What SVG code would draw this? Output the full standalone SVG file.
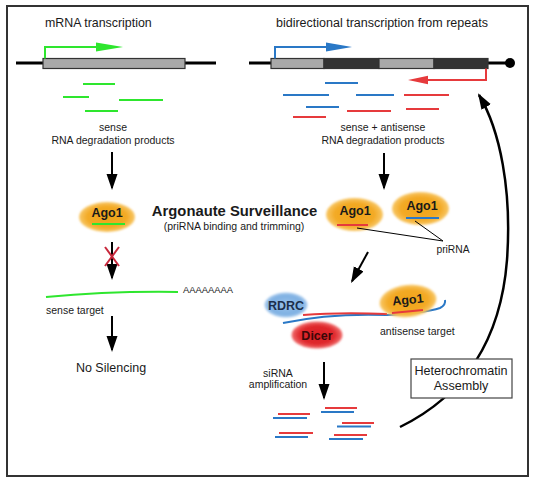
<svg xmlns="http://www.w3.org/2000/svg" width="535" height="484" viewBox="0 0 535 484">
<style>
text{font-family:"Liberation Sans",Arial,sans-serif;fill:#1a1a1a}
.t12{font-size:12.4px}
.t105{font-size:10.5px}
.bold{font-weight:bold}
.ctr{text-anchor:middle}
.blk{stroke:#000;stroke-width:2;fill:none}
.g{stroke:#2ee62e;stroke-width:2;fill:none}
.b{stroke:#2a78c6;stroke-width:2;fill:none}
.r{stroke:#e63a3c;stroke-width:2;fill:none}
.gene{stroke:#000;stroke-width:3}
.seg{stroke:#333;stroke-width:1.2}
.ago{fill:url(#agoG);filter:url(#soft)}
</style>
<defs>
<radialGradient id="agoG"><stop offset="0" stop-color="#f1a318"/><stop offset="0.7" stop-color="#f3aa26"/><stop offset="1" stop-color="#f8c868"/></radialGradient>
<radialGradient id="rdrcG"><stop offset="0" stop-color="#9cc3ec"/><stop offset="0.75" stop-color="#7eb0e2"/><stop offset="1" stop-color="#a9cbee"/></radialGradient>
<radialGradient id="dicerG"><stop offset="0" stop-color="#d81c22"/><stop offset="0.7" stop-color="#e02a2e"/><stop offset="1" stop-color="#f07070"/></radialGradient>
<filter id="soft" x="-30%" y="-30%" width="160%" height="160%"><feGaussianBlur stdDeviation="1.3"/></filter>
<marker id="ah" markerUnits="userSpaceOnUse" markerWidth="16" markerHeight="12" viewBox="0 0 16 12" refX="14" refY="6" orient="auto"><path d="M0,0.5 L16,6 L0,11.5 z" fill="#000"/></marker>
</defs>
<rect x="0" y="0" width="535" height="484" fill="#fff"/>
<rect x="7" y="6" width="521" height="470" fill="#fff" stroke="#333" stroke-width="2"/>

<g id="left-gene">
<text class="t12" x="45" y="27">mRNA transcription</text>
<line class="gene" x1="16" y1="63" x2="216" y2="63"/>
<rect class="seg" x="43" y="58.5" width="142" height="10" fill="#a9a9a9"/>
<path class="g" d="M45,58.5 L45,47 L98,47"/>
<polygon points="96,42.5 123,47 96,51.5" fill="#2ee62e"/>
</g>

<g id="left-products">
<line class="g" x1="83" y1="84" x2="115" y2="84"/>
<line class="g" x1="63" y1="97" x2="89" y2="97"/>
<line class="g" x1="119" y1="100" x2="163" y2="100"/>
<line class="g" x1="85" y1="111" x2="118" y2="111"/>
<text class="t105 ctr" x="113" y="131">sense</text>
<text class="t105 ctr" x="113" y="144">RNA degradation products</text>
</g>

<g id="right-gene">
<text class="t12" x="276" y="27" style="font-size:12.5px">bidirectional transcription from repeats</text>
<line class="gene" x1="249" y1="63" x2="508" y2="63"/>
<circle cx="510" cy="63" r="5" fill="#000"/>
<rect class="seg" x="271" y="58.5" width="53" height="10" fill="#a9a9a9"/>
<rect class="seg" x="324" y="58.5" width="55" height="10" fill="#333"/>
<rect class="seg" x="379" y="58.5" width="55" height="10" fill="#a9a9a9"/>
<rect class="seg" x="434" y="58.5" width="54" height="10" fill="#333"/>
<path class="b" d="M275,58.5 L275,47 L328,47"/>
<polygon points="326,42.5 352,47 326,51.5" fill="#2a78c6"/>
<path class="r" d="M486,68.5 L486,80 L426,80"/>
<polygon points="428,75.8 408,80 428,84.2" fill="#e63a3c"/>
</g>

<g id="right-products">
<line class="b" x1="325" y1="83" x2="358" y2="83"/>
<line class="b" x1="283" y1="95" x2="329" y2="95"/>
<line class="b" x1="356" y1="95" x2="394" y2="95"/>
<line class="b" x1="306" y1="107" x2="339" y2="107"/>
<line class="r" x1="404" y1="95" x2="449" y2="95"/>
<line class="r" x1="347" y1="111" x2="391" y2="111"/>
<line class="r" x1="406" y1="109" x2="439" y2="109"/>
<line class="r" x1="293" y1="117" x2="326" y2="117"/>
<text class="t105 ctr" x="383" y="131">sense + antisense</text>
<text class="t105 ctr" x="383" y="144">RNA degradation products</text>
</g>

<g id="ago1-left">
<ellipse class="ago" cx="107" cy="217" rx="28" ry="15"/>
<text class="bold ctr" x="107" y="217" style="font-size:12.5px">Ago1</text>
<line class="g" x1="92" y1="224" x2="125" y2="224"/>
</g>

<g id="surveillance-label">
<text class="bold ctr" x="234.5" y="216" style="font-size:14.8px">Argonaute Surveillance</text>
<text class="t105 ctr" x="234" y="229.5">(priRNA binding and trimming)</text>
</g>

<g id="ago1-red">
<ellipse class="ago" cx="354.5" cy="214.5" rx="28.5" ry="16.5"/>
<text class="bold ctr" x="355" y="215" style="font-size:12.5px">Ago1</text>
<line class="r" x1="337" y1="225" x2="368" y2="225"/>
</g>

<g id="ago1-blue">
<ellipse class="ago" cx="420.5" cy="208.5" rx="28.5" ry="16.5"/>
<text class="bold ctr" x="422" y="210" style="font-size:12.5px">Ago1</text>
<line class="b" x1="406" y1="218" x2="439" y2="218"/>
</g>

<g id="priRNA-label">
<line x1="357" y1="228" x2="443" y2="241" stroke="#000" stroke-width="1"/>
<line x1="415" y1="221" x2="443" y2="241" stroke="#000" stroke-width="1"/>
<text class="ctr" x="453" y="253" style="font-size:10.3px">priRNA</text>
</g>

<g id="sense-target">
<path d="M46,297 Q110,291 178,292" stroke="#2ee62e" stroke-width="2" fill="none"/>
<text x="183" y="293" style="font-size:9.4px">AAAAAAAA</text>
<text class="t105" x="46" y="314">sense target</text>
</g>

<g id="no-silencing">
<text class="ctr" x="111" y="372" style="font-size:12.5px">No Silencing</text>
</g>

<g id="antisense-target">
<path d="M283,323 Q330,313 387,315 Q425,313 440,308 Q446,305 445,300" stroke="#2a78c6" stroke-width="2" fill="none"/>
<path d="M303,315 Q340,312 387,314" stroke="#e63a3c" stroke-width="2" fill="none"/>
<text class="t105" x="380" y="335">antisense target</text>
</g>

<g id="rdrc">
<ellipse cx="286" cy="305" rx="21.5" ry="12.5" fill="url(#rdrcG)" filter="url(#soft)"/>
<text class="bold ctr" x="286" y="310" style="font-size:12.5px;fill:#1c2f4a">RDRC</text>
</g>

<g id="ago1-target">
<g transform="rotate(-6 408 301)">
<ellipse class="ago" cx="408" cy="301" rx="28.5" ry="16"/>
<text class="bold ctr" x="408" y="304" style="font-size:12.5px">Ago1</text>
</g>
<line class="r" x1="392" y1="313" x2="423" y2="310"/>
</g>

<g id="dicer">
<ellipse cx="317" cy="335" rx="25.5" ry="13.5" fill="url(#dicerG)" filter="url(#soft)"/>
<text class="bold ctr" x="317" y="339.5" style="font-size:12.5px;fill:#3a0808">Dicer</text>
</g>

<g id="sirna">
<text class="t105 ctr" x="278" y="377">siRNA</text>
<text class="t105 ctr" x="278" y="388">amplification</text>
<line class="r" x1="278" y1="414" x2="310" y2="414"/>
<line class="b" x1="273" y1="418" x2="307" y2="418"/>
<line class="r" x1="325" y1="408" x2="357" y2="408"/>
<line class="b" x1="321" y1="412" x2="354" y2="412"/>
<line class="r" x1="342" y1="423" x2="374" y2="423"/>
<line class="b" x1="337" y1="426.5" x2="371" y2="426.5"/>
<line class="r" x1="279" y1="433" x2="313" y2="433"/>
<line class="b" x1="275" y1="437" x2="308" y2="437"/>
<line class="r" x1="334" y1="435" x2="367" y2="435"/>
<line class="b" x1="329" y1="439" x2="363" y2="439"/>
</g>

<g id="connectors">
<line class="blk" x1="112" y1="152" x2="112" y2="188" marker-end="url(#ah)"/>
<line class="blk" x1="112" y1="242" x2="112" y2="278" marker-end="url(#ah)"/>
<line x1="105" y1="247" x2="119" y2="266" stroke="#c8283c" stroke-width="2"/>
<line x1="119" y1="247" x2="105" y2="266" stroke="#c8283c" stroke-width="2"/>
<line class="blk" x1="112" y1="316" x2="112" y2="350" marker-end="url(#ah)"/>
<line class="blk" x1="384" y1="153" x2="384" y2="188" marker-end="url(#ah)"/>
<line class="blk" x1="368" y1="252" x2="352" y2="281.2" marker-end="url(#ah)"/>
<line class="blk" x1="324" y1="362" x2="324" y2="398" marker-end="url(#ah)"/>
<path d="M400,427 C455,400 500,350 507,260 C512,190 500,130 479,95" stroke="#000" stroke-width="2.5" fill="none" marker-end="url(#ah)"/>
</g>

<g id="heterochromatin">
<rect x="411" y="359" width="101" height="39" fill="#fff" stroke="#444" stroke-width="1.2"/>
<text class="ctr" x="461" y="375" style="font-size:12.6px">Heterochromatin</text>
<text class="ctr" x="461" y="390" style="font-size:12.6px">Assembly</text>
</g>
</svg>
